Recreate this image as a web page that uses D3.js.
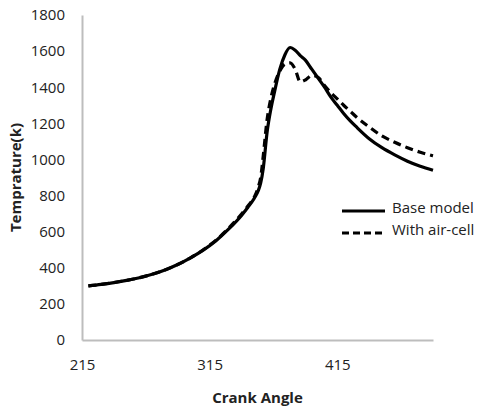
<!DOCTYPE html>
<html>
<head>
<meta charset="utf-8">
<script src="https://cdn.jsdelivr.net/npm/d3@7"></script>
<style>
  body { margin: 0; background: #fff; }
  svg { display: block; }
  text { font-family: "Open Sans", "Liberation Sans", sans-serif; fill: #222; }
</style>
</head>
<body>
<svg width="504" height="410"></svg>
<script>
// Chart data
const crankAngle = [220, 230, 240, 250, 260, 270, 280, 290, 300, 310, 320, 330, 340, 345, 350, 353,
  355, 357, 360, 363, 366, 370, 374, 378, 382, 386, 390, 395, 400, 405, 410, 415, 420, 425, 430,
  440, 450, 460, 470, 480, 490];
const baseModel = [300, 308, 318, 330, 345, 364, 388, 418, 455, 498, 550, 615, 690, 735, 785, 825,
  870, 950, 1150, 1280, 1380, 1500, 1580, 1620, 1605, 1575, 1550, 1500, 1450, 1400, 1345, 1300,
  1255, 1215, 1180, 1115, 1065, 1025, 990, 962, 940];
const airCell = [300, 308, 318, 330, 345, 364, 388, 418, 455, 500, 553, 620, 698, 742, 792, 845,
  900, 1020, 1220, 1340, 1420, 1490, 1528, 1535, 1500, 1430, 1440, 1465, 1455, 1410, 1370, 1335,
  1300, 1268, 1235, 1180, 1130, 1095, 1065, 1040, 1020];
const xTicks = [215, 315, 415];
const yTicks = [0, 200, 400, 600, 800, 1000, 1200, 1400, 1600, 1800];
const seriesNames = ['Base model', 'With air-cell'];

const svg = d3.select('svg');
const margin = { top: 15, right: 71, bottom: 70, left: 82 };
const width = +svg.attr('width');
const height = +svg.attr('height');
const innerWidth = width - margin.left - margin.right;
const innerHeight = height - margin.top - margin.bottom;

const x = d3.scaleLinear().domain([215, 490]).range([0, innerWidth]);
const y = d3.scaleLinear().domain([0, 1800]).range([innerHeight, 0]);

const g = svg.append('g').attr('transform', `translate(${margin.left},${margin.top})`);

// Axes: no tick marks, light grey domain lines
const xAxis = g.append('g')
  .attr('transform', `translate(0,${innerHeight})`)
  .call(d3.axisBottom(x).tickValues(xTicks).tickSize(0).tickPadding(19).tickFormat(d3.format('d')));
const yAxis = g.append('g')
  .call(d3.axisLeft(y).tickValues(yTicks).tickSize(0).tickPadding(17).tickFormat(d3.format('d')));
[xAxis, yAxis].forEach((ax) => {
  ax.select('.domain').attr('stroke', '#bdbdbd').attr('stroke-width', 2);
  ax.selectAll('text').attr('font-size', '15px').attr('font-family', '"Open Sans", sans-serif').attr('fill', '#222');
});

// Lines
const line = (vals) => d3.line()
  .x((d, i) => x(crankAngle[i]))
  .y((d) => y(d))
  .curve(d3.curveMonotoneX)(vals);

g.append('path')
  .attr('d', line(baseModel))
  .attr('fill', 'none')
  .attr('stroke', '#000')
  .attr('stroke-width', 3.2);

g.append('path')
  .attr('d', line(airCell))
  .attr('fill', 'none')
  .attr('stroke', '#000')
  .attr('stroke-width', 3.2)
  .attr('stroke-dasharray', '8,5');

// Axis titles
svg.append('text')
  .attr('x', margin.left + innerWidth / 2)
  .attr('y', 403)
  .attr('text-anchor', 'middle')
  .attr('font-size', '15px')
  .attr('font-weight', 'bold')
  .text('Crank Angle');

svg.append('text')
  .attr('transform', `translate(21,${margin.top + innerHeight / 2}) rotate(-90)`)
  .attr('text-anchor', 'middle')
  .attr('font-size', '15px')
  .attr('font-weight', 'bold')
  .text('Temprature(k)');

// Legend
const legend = svg.append('g').attr('transform', 'translate(342,211)');
seriesNames.forEach((name, i) => {
  const row = legend.append('g').attr('transform', `translate(0,${i * 22})`);
  row.append('line')
    .attr('x1', 0).attr('x2', 43)
    .attr('stroke', '#000')
    .attr('stroke-width', 3)
    .attr('stroke-dasharray', i === 1 ? '7,4' : null);
  row.append('text')
    .attr('x', 50)
    .attr('dy', '0.1em')
    .attr('font-size', '15px')
    .text(name);
});
</script>
</body>
</html>
